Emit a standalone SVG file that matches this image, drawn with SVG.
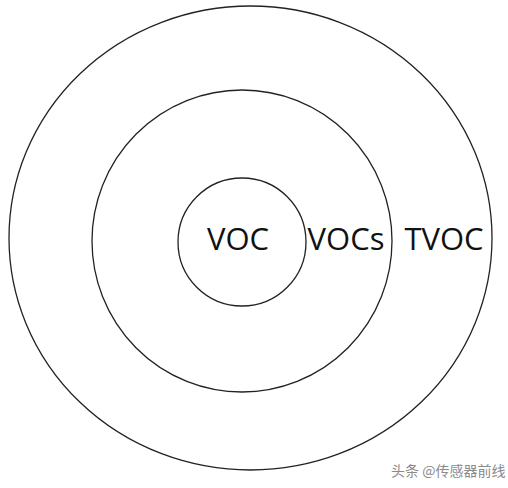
<svg xmlns="http://www.w3.org/2000/svg" width="508" height="488" viewBox="0 0 508 488">
<style>
.ring{fill:none;stroke:#222;stroke-width:1.3}
.lbl{font-family:"Open Sans","Noto Sans",sans-serif;font-size:31px;fill:#111;text-anchor:middle}
.wm{font-family:"Noto Sans CJK SC",sans-serif;font-size:14px;fill:#8a8a8a}
</style>
<rect width="508" height="488" fill="#fff"/>
<g id="tvoc">
<ellipse class="ring" cx="250.5" cy="238" rx="241.5" ry="232"/>
<text class="lbl" x="444" y="250">TVOC</text>
</g>
<g id="vocs">
<ellipse class="ring" cx="242" cy="241" rx="150" ry="151"/>
<text class="lbl" x="346" y="250">VOCs</text>
</g>
<g id="voc">
<circle class="ring" cx="242" cy="242" r="64"/>
<text class="lbl" x="238" y="250">VOC</text>
</g>
<g id="connectors"/>
<text class="wm" x="391" y="476">头条 @传感器前线</text>
</svg>
